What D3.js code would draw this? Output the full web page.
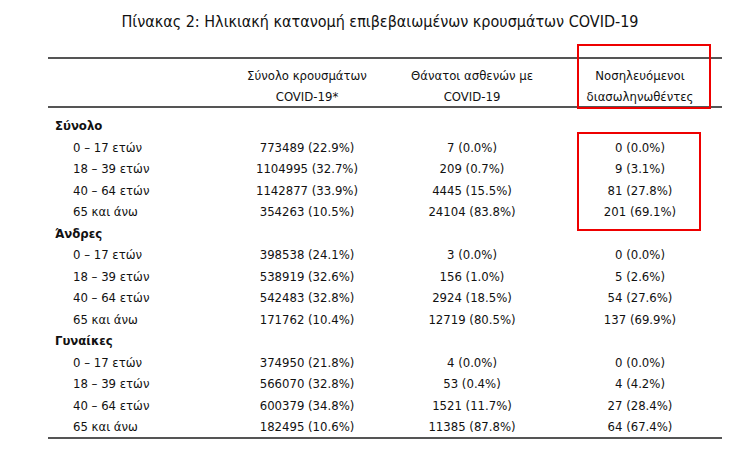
<!DOCTYPE html><html><head><meta charset="utf-8"><script src="https://cdn.jsdelivr.net/npm/d3@7"></script>
<style>body{margin:0;background:#fff}text{font-family:"DejaVu Sans Condensed","Liberation Sans Narrow",sans-serif;fill:#111}</style></head><body><svg id="c" width="734" height="468"></svg>
<script>
const title="Πίνακας 2: Ηλικιακή κατανομή επιβεβαιωμένων κρουσμάτων COVID-19";
const headers=[["Σύνολο κρουσμάτων","COVID-19*"],["Θάνατοι ασθενών με","COVID-19"],["Νοσηλευόμενοι","διασωληνωθέντες"]];
const groups=["Σύνολο","Άνδρες","Γυναίκες"];
const ages=["0 – 17 ετών","18 – 39 ετών","40 – 64 ετών","65 και άνω"];
const cases=[["773489 (22.9%)","1104995 (32.7%)","1142877 (33.9%)","354263 (10.5%)"],["398538 (24.1%)","538919 (32.6%)","542483 (32.8%)","171762 (10.4%)"],["374950 (21.8%)","566070 (32.8%)","600379 (34.8%)","182495 (10.6%)"]];
const deaths=[["7 (0.0%)","209 (0.7%)","4445 (15.5%)","24104 (83.8%)"],["3 (0.0%)","156 (1.0%)","2924 (18.5%)","12719 (80.5%)"],["4 (0.0%)","53 (0.4%)","1521 (11.7%)","11385 (87.8%)"]];
const intub=[["0 (0.0%)","9 (3.1%)","81 (27.8%)","201 (69.1%)"],["0 (0.0%)","5 (2.6%)","54 (27.6%)","137 (69.9%)"],["0 (0.0%)","4 (4.2%)","27 (28.4%)","64 (67.4%)"]];
const svg=d3.select("#c");
svg.append("text").attr("x",380).attr("y",27).attr("text-anchor","middle").style("font-size","16px").text(title);
const line=y=>svg.append("line").attr("x1",48).attr("x2",722).attr("y1",y).attr("y2",y).attr("stroke","#555").attr("stroke-width",2);
line(58);line(107);line(438);
const colX=d3.scaleOrdinal().domain([0,1,2]).range([307,472,640]);
headers.forEach((h,i)=>h.forEach((t,j)=>svg.append("text").attr("x",colX(i)).attr("y",80+j*21).attr("text-anchor","middle").style("font-size","13px").text(t)));
const rows=[];groups.forEach((g,gi)=>{rows.push({type:"g",label:g});ages.forEach((a,ai)=>rows.push({type:"r",label:a,vals:[cases[gi][ai],deaths[gi][ai],intub[gi][ai]]}));});
const y=d3.scaleLinear().domain([0,14]).range([130,431]);
rows.forEach((r,i)=>{
 if(r.type=="g")svg.append("text").attr("x",55).attr("y",y(i)).style("font-size","13px").style("font-weight","bold").text(r.label);
 else{svg.append("text").attr("x",73).attr("y",y(i)).style("font-size","13px").text(r.label);
  r.vals.forEach((v,k)=>svg.append("text").attr("x",colX(k)).attr("y",y(i)).attr("text-anchor","middle").style("font-size","13px").text(v));}
});
svg.append("rect").attr("x",578).attr("y",45).attr("width",132).attr("height",63).attr("fill","none").attr("stroke","#e00").attr("stroke-width",2);
svg.append("rect").attr("x",578).attr("y",133).attr("width",122).attr("height",97).attr("fill","none").attr("stroke","#e00").attr("stroke-width",2);
</script></body></html>
